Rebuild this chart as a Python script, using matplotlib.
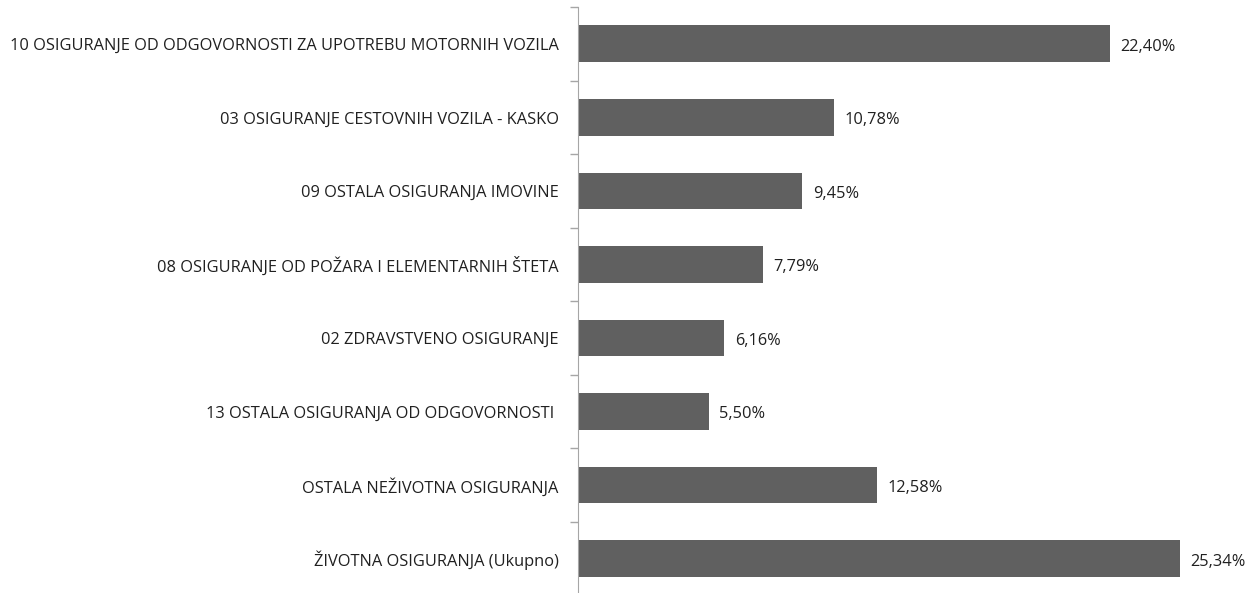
import numpy as np
import matplotlib.pyplot as plt

# Data
categories = [
    '10 OSIGURANJE OD ODGOVORNOSTI ZA UPOTREBU MOTORNIH VOZILA',
    '03 OSIGURANJE CESTOVNIH VOZILA - KASKO',
    '09 OSTALA OSIGURANJA IMOVINE',
    '08 OSIGURANJE OD POŽARA I ELEMENTARNIH ŠTETA',
    '02 ZDRAVSTVENO OSIGURANJE',
    '13 OSTALA OSIGURANJA OD ODGOVORNOSTI ',
    'OSTALA NEŽIVOTNA OSIGURANJA',
    'ŽIVOTNA OSIGURANJA (Ukupno)',
]
values = [22.40, 10.78, 9.45, 7.79, 6.16, 5.50, 12.58, 25.34]
value_labels = ['22,40%', '10,78%', '9,45%', '7,79%', '6,16%', '5,50%', '12,58%', '25,34%']

plt.rcParams['font.family'] = ['Open Sans', 'DejaVu Sans']

fig = plt.figure(figsize=(12.58, 5.93), dpi=100)
ax = fig.add_axes([0.4595, -0.004, 0.5405, 0.992])

y = np.arange(len(categories))
ax.barh(y, values, height=0.5, color='#606060')

for yi, v, lab in zip(y, values, value_labels):
    ax.text(v + 0.45, yi + 0.04, lab, va='center', ha='left', fontsize=11.8, color='#202020')

ax.set_ylim(len(categories) - 0.5, -0.5)
ax.set_xlim(0, 28.63)

# category labels without ticks, tick marks at boundaries
ax.set_yticks(y)
ax.set_yticklabels(categories, fontsize=11.8, color='#202020')
ax.tick_params(axis='y', which='major', length=0, pad=14)
ax.set_yticks(np.arange(-0.5, len(categories) + 0.5, 1), minor=True)
ax.tick_params(axis='y', which='minor', length=6, color='#a6a6a6', width=1)

ax.set_xticks([])
for s in ['top', 'right', 'bottom']:
    ax.spines[s].set_visible(False)
ax.spines['left'].set_color('#a6a6a6')

plt.savefig('out.png', dpi=100)
